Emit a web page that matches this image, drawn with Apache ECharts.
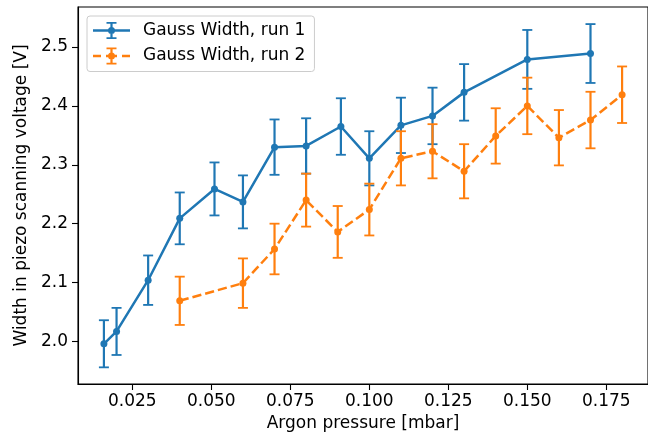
<!DOCTYPE html>
<html>
<head>
<meta charset="utf-8">
<script src="https://cdn.jsdelivr.net/npm/echarts@6/dist/echarts.min.js"></script>
<style>html,body{margin:0;padding:0;background:#fff}#c{width:648px;height:439px}</style>
</head>
<body>
<div id="c"></div>
<script>
// Run 1
const x1 = [0.016, 0.020, 0.030, 0.040, 0.051, 0.060, 0.070, 0.080, 0.091, 0.100, 0.110, 0.120, 0.130, 0.150, 0.170];
const y1 = [1.996, 2.017, 2.104, 2.209, 2.259, 2.237, 2.330, 2.332, 2.365, 2.311, 2.367, 2.383, 2.423, 2.479, 2.489];
const e1 = [0.040, 0.040, 0.042, 0.044, 0.045, 0.045, 0.047, 0.047, 0.048, 0.046, 0.047, 0.048, 0.048, 0.050, 0.050];
// Run 2
const x2 = [0.040, 0.060, 0.070, 0.080, 0.090, 0.100, 0.110, 0.120, 0.130, 0.140, 0.150, 0.160, 0.170, 0.180];
const y2 = [2.069, 2.099, 2.157, 2.240, 2.186, 2.224, 2.311, 2.323, 2.289, 2.349, 2.400, 2.346, 2.376, 2.419];
const e2 = [0.041, 0.042, 0.043, 0.045, 0.044, 0.044, 0.046, 0.046, 0.046, 0.047, 0.048, 0.047, 0.048, 0.048];
// Ticks
const xTicks = [0.025, 0.050, 0.075, 0.100, 0.125, 0.150, 0.175];
const yTicks = [2.0, 2.1, 2.2, 2.3, 2.4, 2.5];
const name1 = 'Gauss Width, run 1';
const name2 = 'Gauss Width, run 2';

const C1 = '#1f77b4', C2 = '#ff7f0e';
const FONT = 'DejaVu Sans';
const FS = 17;

function errRender(color) {
  return function (params, api) {
    const x = api.value(0), y = api.value(1), e = api.value(2);
    const t = api.coord([x, y + e]), b = api.coord([x, y - e]);
    const hw = 5;
    return {
      type: 'group',
      children: [
        {type: 'line', shape: {x1: t[0], y1: t[1], x2: b[0], y2: b[1]}, style: {stroke: color, lineWidth: 2.2}},
        {type: 'line', shape: {x1: t[0] - hw, y1: t[1], x2: t[0] + hw, y2: t[1]}, style: {stroke: color, lineWidth: 1.8}},
        {type: 'line', shape: {x1: b[0] - hw, y1: b[1], x2: b[0] + hw, y2: b[1]}, style: {stroke: color, lineWidth: 1.8}}
      ]
    };
  };
}

const circ = 'M22 8.5 A3.5 3.5 0 1 1 15 8.5 A3.5 3.5 0 1 1 22 8.5 Z ';
const bar = 'M17.4 0 L19.6 0 L19.6 17 L17.4 17 Z M13.5 0 L23.5 0 L23.5 1.8 L13.5 1.8 Z M13.5 15.2 L23.5 15.2 L23.5 17 L13.5 17 Z ';
const icon1 = 'path://M0 7.25 L37 7.25 L37 9.75 L0 9.75 Z ' + bar + circ;
const icon2 = 'path://M0 7.25 L8 7.25 L8 9.75 L0 9.75 Z M13 7.25 L24 7.25 L24 9.75 L13 9.75 Z M29 7.25 L37 7.25 L37 9.75 L29 9.75 Z ' + bar + circ;

const chart = echarts.init(document.getElementById('c'), null, {renderer: 'canvas'});
chart.setOption({
  animation: false,
  backgroundColor: '#fff',
  textStyle: {fontFamily: FONT},
  grid: {left: 78, top: 7, width: 581, bottom: 55, show: true, borderColor: '#000', borderWidth: 1.1, backgroundColor: 'transparent'},
  legend: {
    orient: 'vertical',
    left: 87, top: 16,
    padding: [6, 9, 7, 6],
    itemWidth: 37, itemHeight: 17, itemGap: 8.5,
    backgroundColor: 'rgba(255,255,255,0.8)',
    borderColor: '#cccccc', borderWidth: 1, borderRadius: 3,
    itemStyle: {borderWidth: 0},
    textStyle: {fontFamily: FONT, fontSize: FS, color: '#000', lineHeight: 17, padding: [0, 0, 0, 8]},
    data: [{name: name1, icon: icon1}, {name: name2, icon: icon2}]
  },
  xAxis: {
    type: 'value', min: 0.0078, max: 0.1882,
    name: 'Argon pressure [mbar]', nameLocation: 'middle', nameGap: 22,
    nameTextStyle: {fontFamily: FONT, fontSize: FS, color: '#000'},
    splitLine: {show: false},
    axisLine: {lineStyle: {color: '#000', width: 1.1}},
    axisTick: {length: 6, lineStyle: {color: '#000', width: 1.1}, customValues: xTicks},
    axisLabel: {fontFamily: FONT, fontSize: FS, color: '#000', margin: 9, customValues: xTicks,
      formatter: v => v.toFixed(3)}
  },
  yAxis: {
    type: 'value', min: 1.9277, max: 2.568,
    name: 'Width in piezo scanning voltage [V]', nameLocation: 'middle', nameGap: 48,
    nameTextStyle: {fontFamily: FONT, fontSize: FS, color: '#000'},
    splitLine: {show: false},
    axisLine: {show: true, lineStyle: {color: '#000', width: 1.1}},
    axisTick: {show: true, length: 6, lineStyle: {color: '#000', width: 1.1}, customValues: yTicks},
    axisLabel: {fontFamily: FONT, fontSize: FS, color: '#000', margin: 10, customValues: yTicks,
      formatter: v => v.toFixed(1)}
  },
  series: [
    {
      type: 'custom', name: 'err1', renderItem: errRender(C1),
      data: x1.map((x, i) => [x, y1[i], e1[i]]), encode: {x: 0, y: 1}, z: 2
    },
    {
      type: 'line', name: name1, color: C1,
      data: x1.map((x, i) => [x, y1[i]]),
      symbol: 'circle', symbolSize: 7, showAllSymbol: true,
      lineStyle: {color: C1, width: 2.5}, itemStyle: {color: C1}, z: 3
    },
    {
      type: 'custom', name: 'err2', renderItem: errRender(C2),
      data: x2.map((x, i) => [x, y2[i], e2[i]]), encode: {x: 0, y: 1}, z: 4
    },
    {
      type: 'line', name: name2, color: C2,
      data: x2.map((x, i) => [x, y2[i]]),
      symbol: 'circle', symbolSize: 7, showAllSymbol: true,
      lineStyle: {color: C2, width: 2.5, type: [9.2, 4]}, itemStyle: {color: C2}, z: 5
    }
  ]
});
</script>
</body>
</html>
